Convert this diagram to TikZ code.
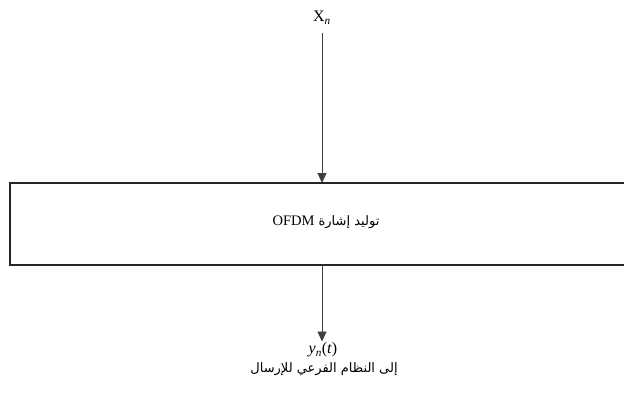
\documentclass[tikz,border=0pt]{standalone}
\usepackage{fontspec}
\setmainfont{Liberation Serif}
\newfontfamily\arabicfont[Script=Arabic]{DejaVu Sans}
\TeXXeTstate=1
\usetikzlibrary{arrows.meta}
\begin{document}
\begin{tikzpicture}[x=1pt,y=-1pt,
  conn/.style={draw=black!75, line width=0.9pt, -{Triangle[length=10pt,width=9pt]}},
  blockbox/.style={draw=black!85, line width=1.4pt, minimum width=620pt, minimum height=82pt, inner sep=0pt},
  lbl/.style={inner sep=1pt, font=\fontsize{16}{18}\selectfont},
  arlbl/.style={inner sep=1pt, font=\fontsize{13}{15}\selectfont}
]
\useasboundingbox (0,0) rectangle (624,396);
\clip (0,0) rectangle (624,396);
\node[lbl] (xn) at (322,18) {X\textsubscript{\textit{n}}};
\node[blockbox] (box) at (320,224) {};
\node[arlbl] (boxtext) at (326,222) {\arabicfont\beginR توليد إشارة \beginL\rmfamily\fontsize{14.5}{16}\selectfont OFDM\endL{}\endR};
\coordinate (top) at (322,183);
\coordinate (botstart) at (322,265);
\node[lbl] (yn) at (323,350) {\textit{y}\textsubscript{\textit{n}}(\textit{t})};
\node[arlbl] (dest) at (324,369) {\arabicfont\beginR إلى النظام الفرعي للإرسال\endR};
\draw[conn] ([yshift=-7pt]xn.south) -- (top);
\draw[conn] (botstart) -- (botstart |- yn.north);
\end{tikzpicture}
\end{document}
